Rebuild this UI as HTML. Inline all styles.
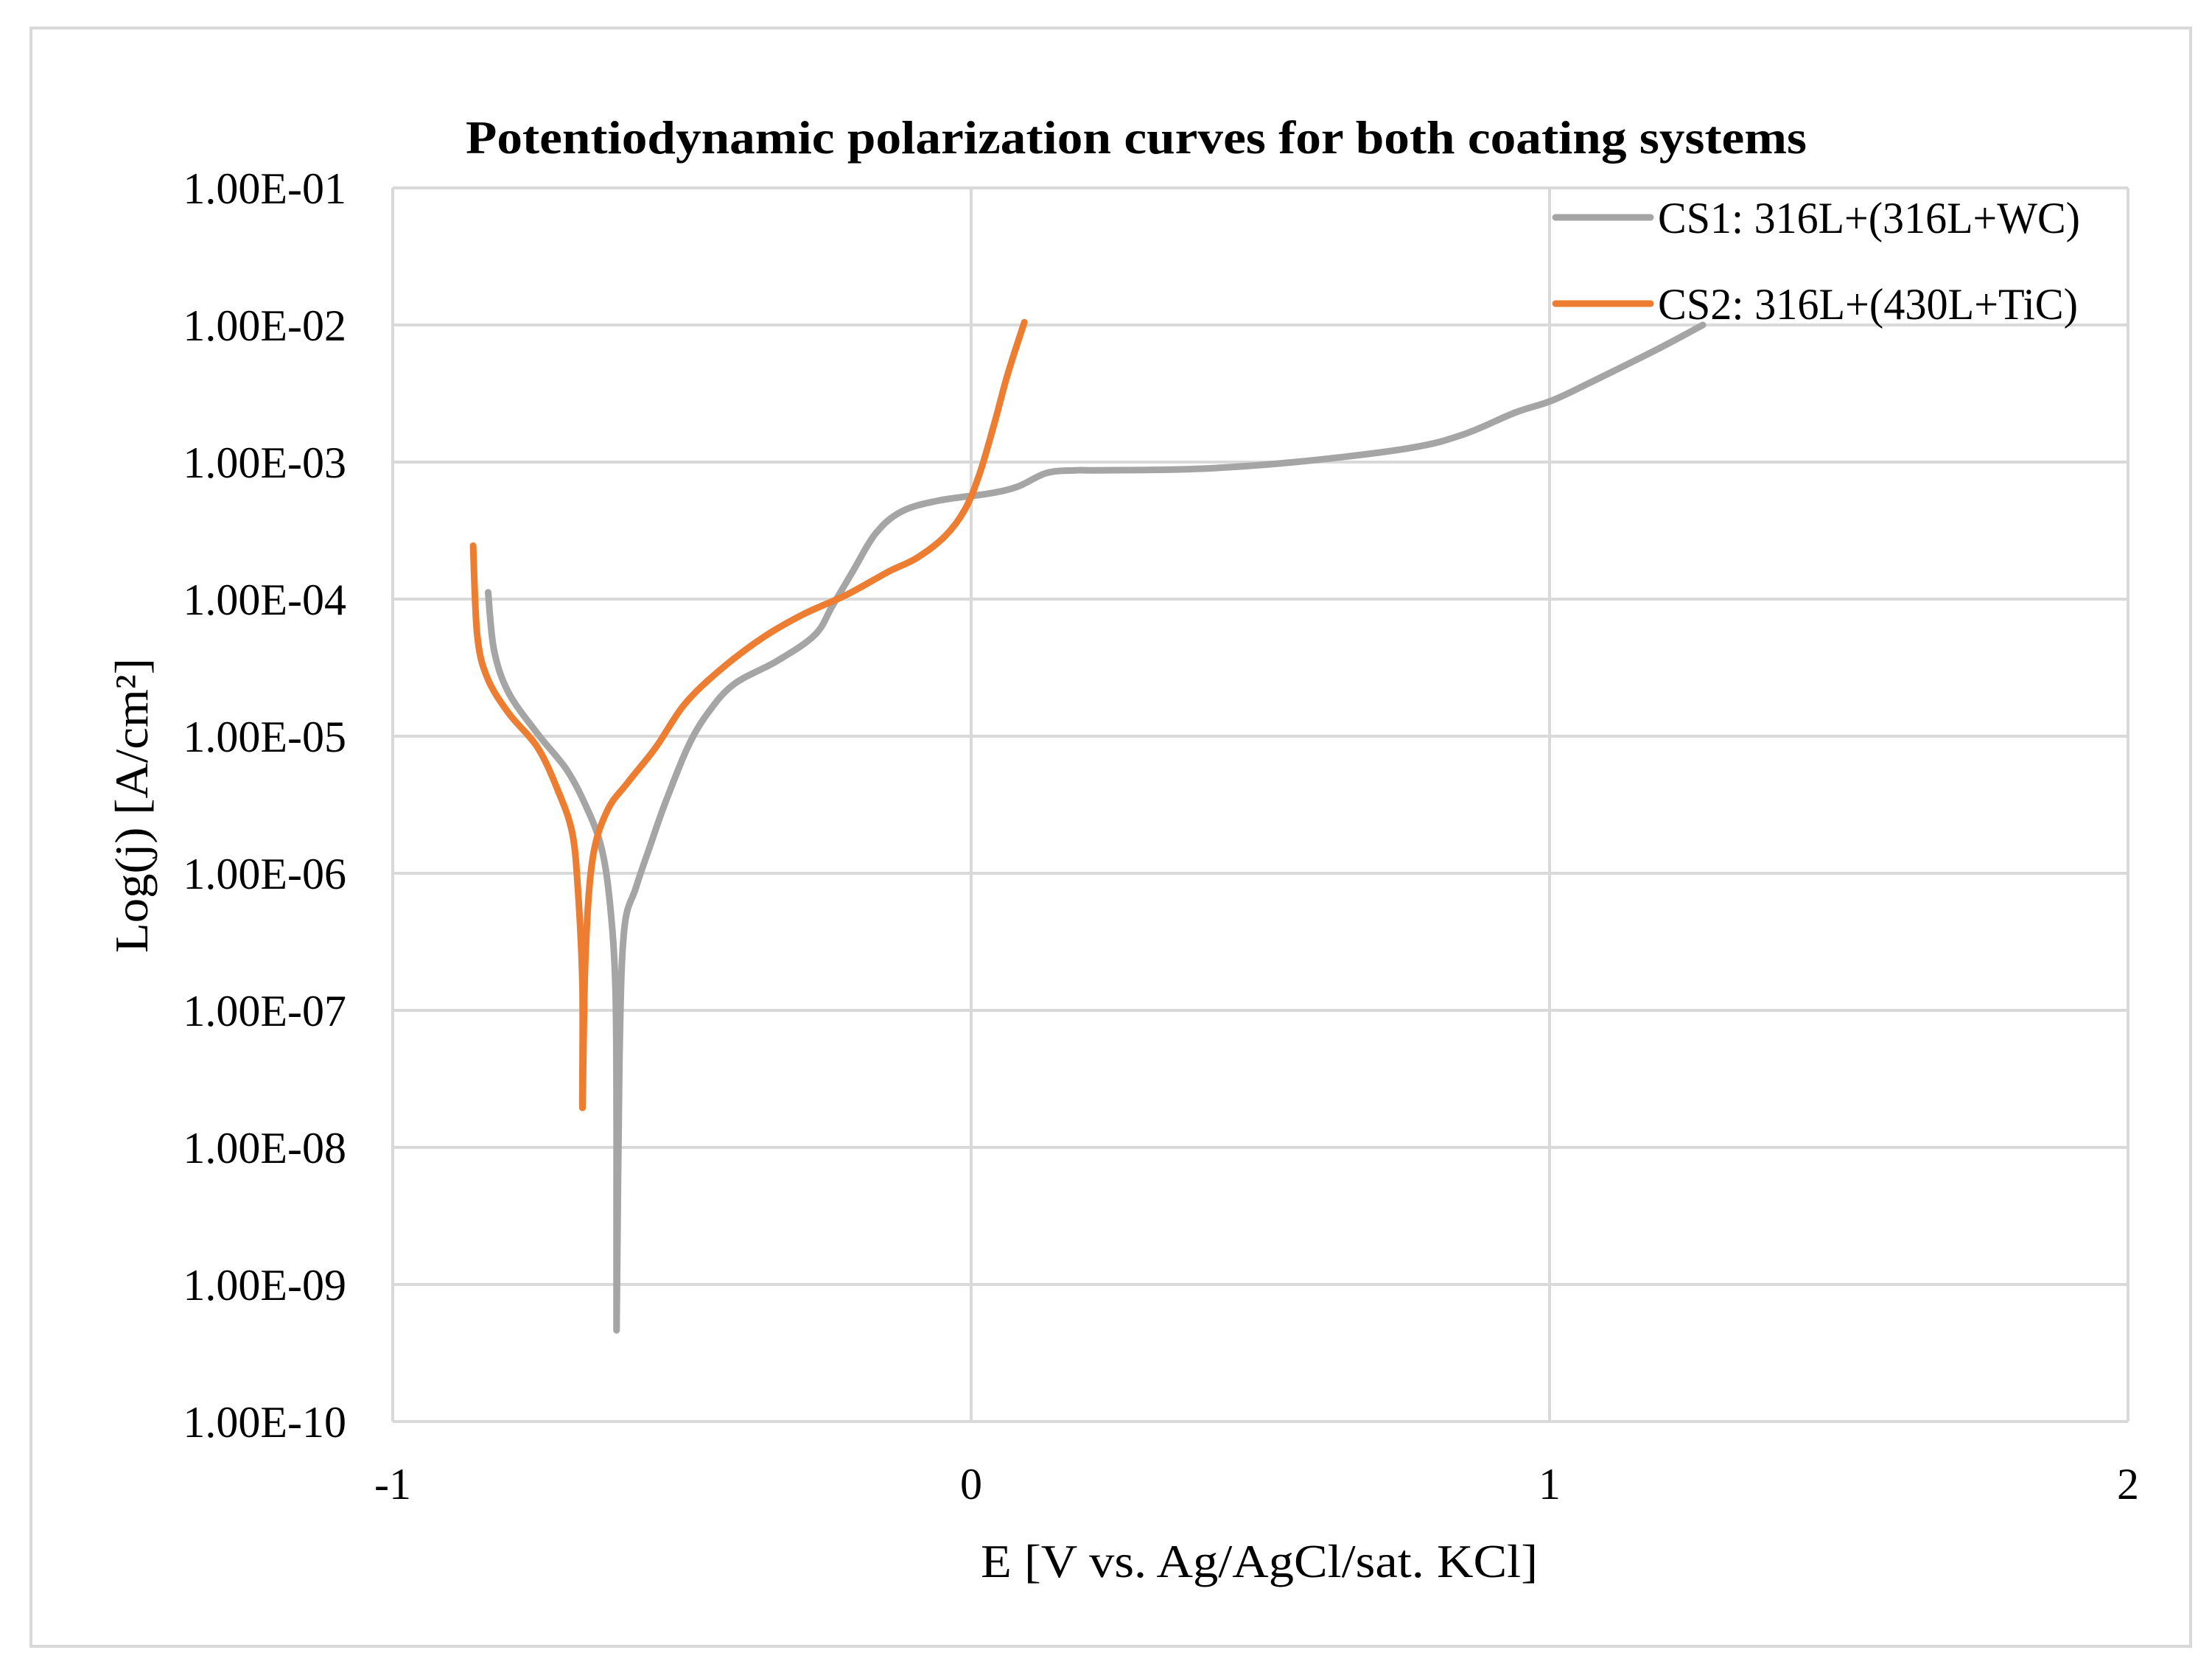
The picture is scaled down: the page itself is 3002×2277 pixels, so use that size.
<!DOCTYPE html>
<html><head><meta charset="utf-8"><style>
html,body{margin:0;padding:0;background:#fff;}
svg{display:block;font-family:"Liberation Serif",serif;}
</style></head><body>
<svg id="chart" width="3002" height="2277" viewBox="0 0 3002 2277">
<rect x="42" y="38" width="2931" height="2196" fill="#fff" stroke="#d9d9d9" stroke-width="4"/>
<text x="1542" y="208" text-anchor="middle" font-weight="bold" font-size="64" textLength="1820" lengthAdjust="spacingAndGlyphs">Potentiodynamic polarization curves for both coating systems</text>
<g id="grid"></g>
<g id="yticks"></g>
<g id="xticks"></g>
<g id="series"></g>
<text transform="translate(200,1093) rotate(-90)" text-anchor="middle" font-size="64" textLength="400" lengthAdjust="spacingAndGlyphs">Log(j) [A/cm²]</text>
<text x="1709" y="2140" text-anchor="middle" font-size="64" textLength="756" lengthAdjust="spacingAndGlyphs">E [V vs. Ag/AgCl/sat. KCl]</text>
<g>
<line x1="2111" y1="295" x2="2240" y2="295" stroke="#a5a5a5" stroke-width="9" stroke-linecap="round"/>
<text x="2250" y="316" font-size="60" textLength="573" lengthAdjust="spacingAndGlyphs">CS1: 316L+(316L+WC)</text>
<line x1="2111" y1="412" x2="2240" y2="412" stroke="#ed7d31" stroke-width="9" stroke-linecap="round"/>
<text x="2250" y="433" font-size="60" textLength="570" lengthAdjust="spacingAndGlyphs">CS2: 316L+(430L+TiC)</text>
</g>
</svg>
<script>
const yTickLabels=["1.00E-01","1.00E-02","1.00E-03","1.00E-04","1.00E-05","1.00E-06","1.00E-07","1.00E-08","1.00E-09","1.00E-10"];
const yTickValues=[-1,-2,-3,-4,-5,-6,-7,-8,-9,-10];
const xTickValues=[-1,0,1,2];
const xTickLabels=["-1","0","1","2"];
const cs1E=[-0.835,-0.825,-0.80,-0.75,-0.70,-0.667,-0.64,-0.625,-0.615,-0.613,-0.613,-0.608,-0.60,-0.58,-0.555,-0.53,-0.49,-0.455,-0.41,-0.335,-0.27,-0.24,-0.205,-0.165,-0.12,-0.055,0.03,0.08,0.13,0.18,0.22,0.39,0.56,0.755,0.85,0.94,1.005,1.075,1.185,1.265];
const cs1LogJ=[-3.95,-4.37,-4.68,-4.98,-5.24,-5.5,-5.8,-6.2,-6.83,-7.86,-9.33,-7.35,-6.42,-6.11,-5.8,-5.5,-5.08,-4.83,-4.62,-4.45,-4.26,-4.05,-3.80,-3.52,-3.36,-3.28,-3.23,-3.18,-3.08,-3.06,-3.06,-3.05,-3.0,-2.9,-2.8,-2.64,-2.55,-2.41,-2.18,-2.0];
const cs2E=[-0.861,-0.854,-0.837,-0.80,-0.75,-0.715,-0.69,-0.68,-0.672,-0.672,-0.667,-0.655,-0.63,-0.594,-0.545,-0.496,-0.435,-0.36,-0.29,-0.216,-0.143,-0.094,-0.045,-0.01,0.015,0.04,0.063,0.092];
const cs2LogJ=[-3.61,-4.26,-4.57,-4.83,-5.08,-5.39,-5.70,-6.11,-6.83,-7.71,-6.63,-5.91,-5.55,-5.34,-5.08,-4.77,-4.52,-4.28,-4.11,-3.97,-3.80,-3.70,-3.54,-3.34,-3.08,-2.72,-2.36,-1.98];

const L=533,R=2888,T=255,B=1929;
const xMin=-1,xMax=2,yMax=-1,yMin=-10;
const xs=v=>L+(v-xMin)/(xMax-xMin)*(R-L);
const ys=v=>T+(yMax-v)/(yMax-yMin)*(B-T);
const NS="http://www.w3.org/2000/svg";
function mk(tag,attrs,parent){const e=document.createElementNS(NS,tag);for(const k in attrs)e.setAttribute(k,attrs[k]);parent.appendChild(e);return e;}
const grid=document.getElementById('grid');
yTickValues.forEach((v,i)=>{
  const l=mk('line',{x1:L,x2:R,y1:ys(v),y2:ys(v),stroke:'#d9d9d9','stroke-width':4},grid);
  
  
  const t=mk('text',{x:470,y:ys(v)+21,'text-anchor':'end','font-size':60},document.getElementById('yticks'));
  t.textContent=yTickLabels[i];
  
  
});
xTickValues.forEach((v,i)=>{
  const l=mk('line',{x1:xs(v),x2:xs(v),y1:T,y2:B,stroke:'#d9d9d9','stroke-width':4},grid);
  
  
  const t=mk('text',{x:xs(v),y:2034,'text-anchor':'middle','font-size':60},document.getElementById('xticks'));
  t.textContent=xTickLabels[i];
  
  
});
function draw(E,J,color,name){
  const P=E.map((e,i)=>[xs(e),ys(J[i])]);
  let d='M'+P[0][0].toFixed(1)+' '+P[0][1].toFixed(1);
  for(let i=0;i<P.length-1;i++){
    const p0=P[Math.max(0,i-1)],p1=P[i],p2=P[i+1],p3=P[Math.min(P.length-1,i+2)];
    const c1=[p1[0]+(p2[0]-p0[0])/6,p1[1]+(p2[1]-p0[1])/6];
    const c2=[p2[0]-(p3[0]-p1[0])/6,p2[1]-(p3[1]-p1[1])/6];
    d+=' C'+c1[0].toFixed(1)+' '+c1[1].toFixed(1)+' '+c2[0].toFixed(1)+' '+c2[1].toFixed(1)+' '+p2[0].toFixed(1)+' '+p2[1].toFixed(1);
  }
  const p=mk('path',{d:d,fill:'none',stroke:color,'stroke-width':9,'stroke-linecap':'round','stroke-linejoin':'round'},document.getElementById('series'));
  
  
}
draw(cs1E,cs1LogJ,'#a5a5a5','series-cs1');
draw(cs2E,cs2LogJ,'#ed7d31','series-cs2');
</script>
</body></html>
